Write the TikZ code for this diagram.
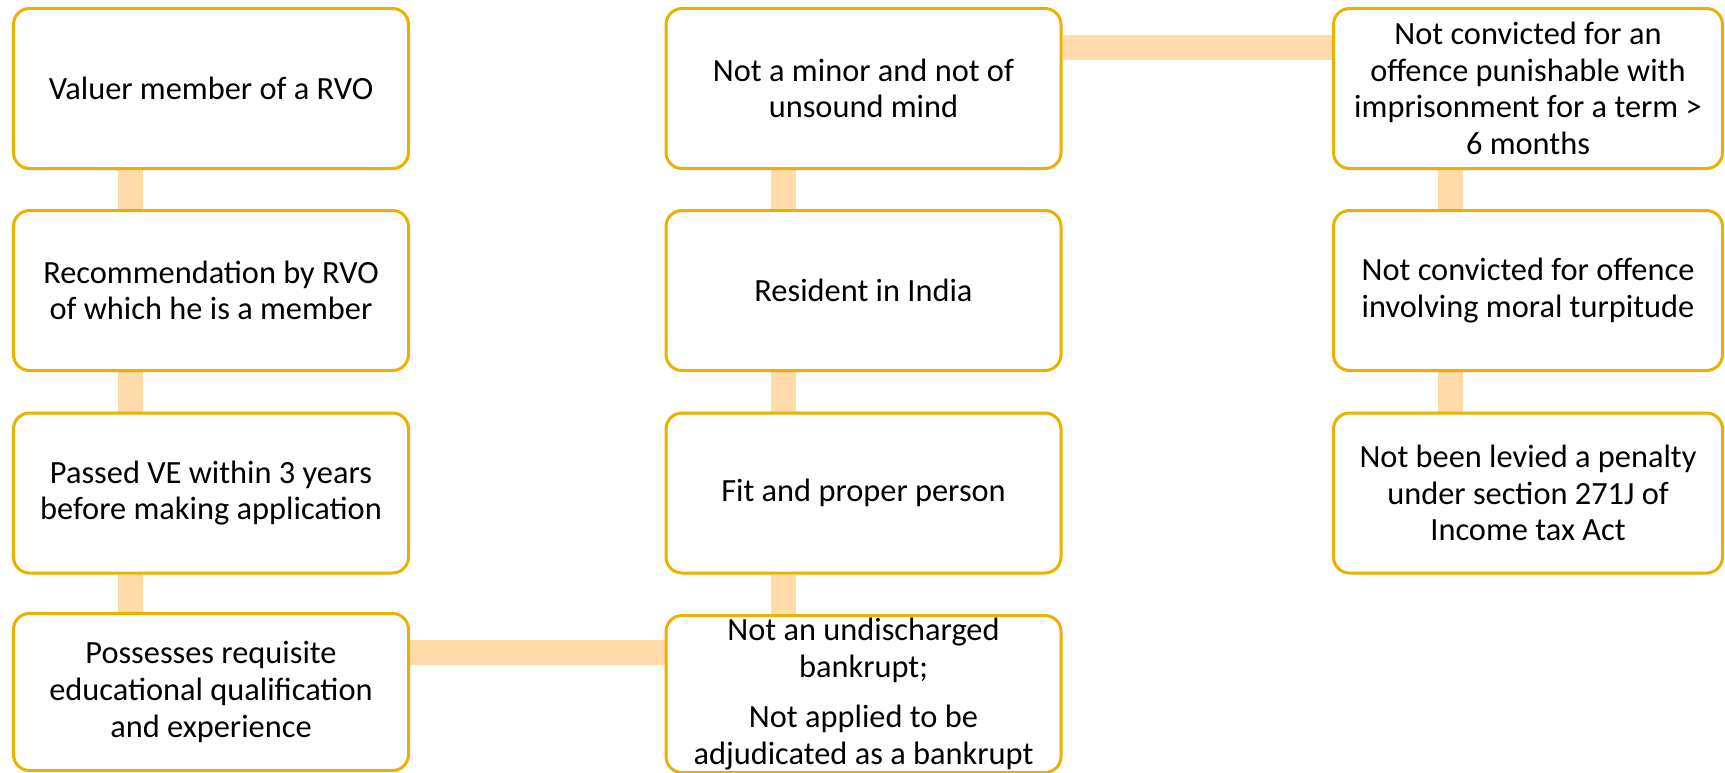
\documentclass[tikz,border=0pt]{standalone}
\usepackage{fontspec}
\setmainfont{Carlito}
\usetikzlibrary{calc,backgrounds}
\definecolor{boxline}{RGB}{235,176,0}
\definecolor{linkfill}{RGB}{254,219,168}
\begin{document}
\begin{tikzpicture}[x=1bp,y=-1bp,
  cbox/.style={draw=boxline, line width=3bp, fill=white, rounded corners=16bp,
    minimum width=395bp, minimum height=160bp, inner sep=0pt, align=center,
    font=\fontsize{32.5}{36.8}\selectfont},
  narrow/.style={minimum width=389bp},
  link/.style={draw=linkfill, line width=25bp}]
\useasboundingbox (0,0) rectangle (1725,773);

% first column
\node[cbox] (c1r1) at (211,88.5) {Valuer member of a RVO};
\node[cbox] (c1r2) at (211,290.5) {Recommendation by RVO\\of which he is a member};
\node[cbox] (c1r3) at (211,493) {Passed VE within 3 years\\before making application};
\node[cbox, minimum height=157bp] (c1r4) at (211,692) {Possesses requisite\\educational qualification\\and experience};

% second column
\node[cbox] (c2r1) at (863.5,88.5) {Not a minor and not of\\unsound mind};
\node[cbox] (c2r2) at (863.5,290.5) {Resident in India};
\node[cbox] (c2r3) at (863.5,493) {Fit and proper person};
\node[cbox, minimum height=157bp] (c2r4) at (863.5,694) {Not an undischarged\\bankrupt;\\[14bp]Not applied to be\\adjudicated as a bankrupt};

% third column
\node[cbox, narrow] (c3r1) at (1528,88.5) {Not convicted for an\\offence punishable with\\imprisonment for a term >\\6 months};
\node[cbox, narrow] (c3r2) at (1528,290.5) {Not convicted for offence\\involving moral turpitude};
\node[cbox, narrow] (c3r3) at (1528,493) {Not been levied a penalty\\under section 271J of\\Income tax Act};

% connecting bars behind the boxes
\begin{scope}[on background layer]
  \foreach \a/\b in {c1r1/c1r2, c1r2/c1r3, c1r3/c1r4,
                     c2r1/c2r2, c2r2/c2r3, c2r3/c2r4,
                     c3r1/c3r2, c3r2/c3r3}
    \draw[link] ($(\a.south west)+(118.5,0)$) -- ($(\b.north west)+(118.5,0)$);
  \draw[link] ($(c1r4.north east)+(0,40.5)$) -- ($(c2r4.north west |- c1r4.north)+(0,40.5)$);
  \draw[link] ($(c2r1.north east)+(0,40.5)$) -- ($(c3r1.north west)+(0,40.5)$);
\end{scope}
\end{tikzpicture}
\end{document}
